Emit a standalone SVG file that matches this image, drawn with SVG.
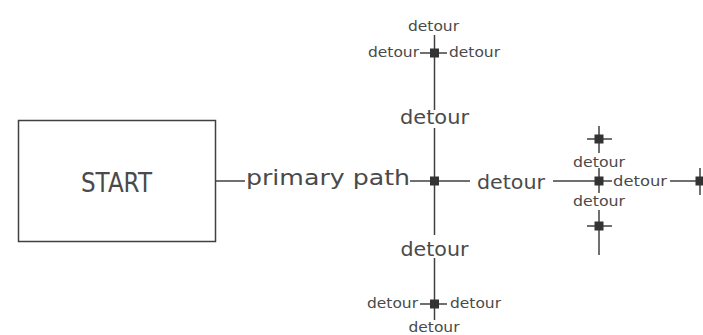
<svg xmlns="http://www.w3.org/2000/svg" width="703" height="335" viewBox="0 0 703 335">
  <style>
    .edge { stroke: #404040; stroke-width: 1.5; fill: none; }
    .box { fill: #ffffff; stroke: #404040; stroke-width: 1.5; }
    .junction { fill: #333333; }
    text { font-family: "DejaVu Sans", "Liberation Sans", sans-serif; fill: #4a4a4a; text-anchor: middle; }
    .big { font-size: 20px; }
    .small { font-size: 14px; }
  </style>
  <rect width="703" height="335" fill="#ffffff"/>

  <!-- connectors -->
  <g id="connectors">
    <line class="edge" x1="216" y1="181" x2="245" y2="181"/>
    <line class="edge" x1="410" y1="181" x2="470" y2="181"/>
    <line class="edge" x1="434.5" y1="128" x2="434.5" y2="235"/>
    <line class="edge" x1="434.5" y1="35" x2="434.5" y2="110"/>
    <line class="edge" x1="420" y1="53" x2="447" y2="53"/>
    <line class="edge" x1="434.5" y1="258" x2="434.5" y2="320"/>
    <line class="edge" x1="420" y1="304" x2="447" y2="304"/>
    <line class="edge" x1="553" y1="181" x2="612" y2="181"/>
    <line class="edge" x1="599" y1="126" x2="599" y2="153"/>
    <line class="edge" x1="599" y1="168" x2="599" y2="193"/>
    <line class="edge" x1="599" y1="210" x2="599" y2="255"/>
    <line class="edge" x1="587" y1="139" x2="612" y2="139"/>
    <line class="edge" x1="587" y1="226" x2="612" y2="226"/>
    <line class="edge" x1="670" y1="181" x2="703" y2="181"/>
    <line class="edge" x1="700" y1="168" x2="700" y2="195"/>

    <!-- edge labels -->
    <text x="328" y="185" font-size="21" textLength="164" lengthAdjust="spacingAndGlyphs">primary path</text>
    <text class="big" x="434.5" y="124" textLength="69" lengthAdjust="spacingAndGlyphs">detour</text>
    <text class="big" x="434.5" y="256" textLength="68" lengthAdjust="spacingAndGlyphs">detour</text>
    <text class="big" x="511" y="189" textLength="68" lengthAdjust="spacingAndGlyphs">detour</text>
    <text class="small" x="433.5" y="31" textLength="51" lengthAdjust="spacingAndGlyphs">detour</text>
    <text class="small" x="393.5" y="57" textLength="51" lengthAdjust="spacingAndGlyphs">detour</text>
    <text class="small" x="474.5" y="57" textLength="51" lengthAdjust="spacingAndGlyphs">detour</text>
    <text class="small" x="392.5" y="308" textLength="51" lengthAdjust="spacingAndGlyphs">detour</text>
    <text class="small" x="475.5" y="308" textLength="51" lengthAdjust="spacingAndGlyphs">detour</text>
    <text class="small" x="434" y="332" textLength="51" lengthAdjust="spacingAndGlyphs">detour</text>
    <text class="small" x="599" y="167" textLength="52" lengthAdjust="spacingAndGlyphs">detour</text>
    <text class="small" x="599" y="206" textLength="52" lengthAdjust="spacingAndGlyphs">detour</text>
    <text class="small" x="640" y="186" textLength="54" lengthAdjust="spacingAndGlyphs">detour</text>
  </g>

  <!-- nodes -->
  <g id="start">
    <rect class="box" x="18.5" y="120.5" width="197" height="121"/>
    <text x="116.5" y="192" font-size="27" textLength="71" lengthAdjust="spacingAndGlyphs">START</text>
  </g>
  <g id="hub"><rect class="junction" x="430" y="176.5" width="9" height="9"/></g>
  <g id="junction-top"><rect class="junction" x="430" y="48.5" width="9" height="9"/></g>
  <g id="junction-bottom"><rect class="junction" x="430" y="299.5" width="9" height="9"/></g>
  <g id="junction-right"><rect class="junction" x="594.5" y="176.5" width="9" height="9"/></g>
  <g id="junction-right-top"><rect class="junction" x="594.5" y="134.5" width="9" height="9"/></g>
  <g id="junction-right-bottom"><rect class="junction" x="594.5" y="221.5" width="9" height="9"/></g>
  <g id="junction-far-right"><rect class="junction" x="695.5" y="176.5" width="9" height="9"/></g>
</svg>
